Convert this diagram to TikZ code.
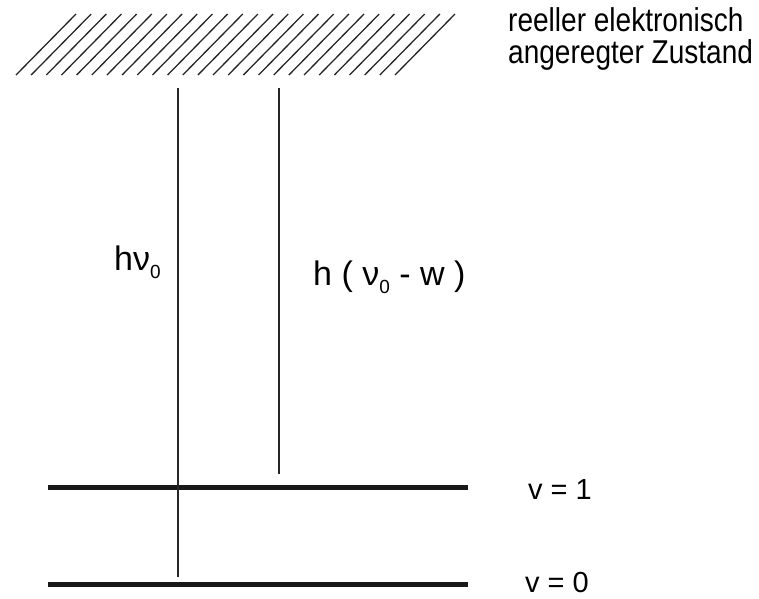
\documentclass[tikz,border=0pt]{standalone}
\usepackage{fontspec}
\setmainfont[FakeStretch=0.85]{Liberation Sans}
\newfontfamily\plainsans{Liberation Sans}
\usepackage{tikz}
\usetikzlibrary{positioning}
\newcommand{\nusub}{ν\raisebox{-8pt}{\fontsize{19}{19}\selectfont 0}}
\tikzset{
  lvl/.style={line width=5pt,draw=black!90},
  trn/.style={line width=1.1pt,draw=black!85},
  hatch/.style={line width=1.3pt,draw=black!85},
  lbl/.style={inner sep=0pt,font=\fontsize{33}{33}\selectfont},
  lblh/.style={inner sep=0pt,font=\plainsans\fontsize{34}{34}\selectfont},
  lblv/.style={inner sep=0pt,font=\plainsans\fontsize{29}{29}\selectfont},
}
\begin{document}
\begin{tikzpicture}[x=1pt,y=-1pt]
\useasboundingbox (0,0) rectangle (759,598);
% schraffierter oberer Zustand
\foreach \k in {0,...,25}
  \draw[hatch] ({16+15.16*\k},75) -- ({76+15.16*\k},14);
\node[lbl,anchor=base west] (zust1) at (508,31) {reeller elektronisch};
\node[lbl,anchor=base west] (zust2) at (508,63) {angeregter Zustand};
% Schwingungsniveaus
\coordinate (v1a) at (48,487);
\coordinate (v1b) at (468,487);
\coordinate (v0a) at (48,584);
\coordinate (v0b) at (468,584);
\draw[lvl] (v1a) -- (v1b);
\draw[lvl] (v0a) -- (v0b);
\node[lblv,anchor=base west] (v1) at (528,499) {v = 1};
\node[lblv,anchor=base west] (v0) at (525,592) {v = 0};
% Uebergaenge
\coordinate (ray) at (178,88);
\coordinate (rayb) at (178,577);
\coordinate (stk) at (279,88);
\coordinate (stkb) at (279,474);
\draw[trn] (ray) -- (rayb);
\draw[trn] (stk) -- (stkb);
\node[lblh,anchor=base west] (hnu) at (114,270) {h\nusub};
\node[lblh,anchor=base west] (hnuw) at (313,285) {h ( \nusub\ - w )};
\end{tikzpicture}
\end{document}
